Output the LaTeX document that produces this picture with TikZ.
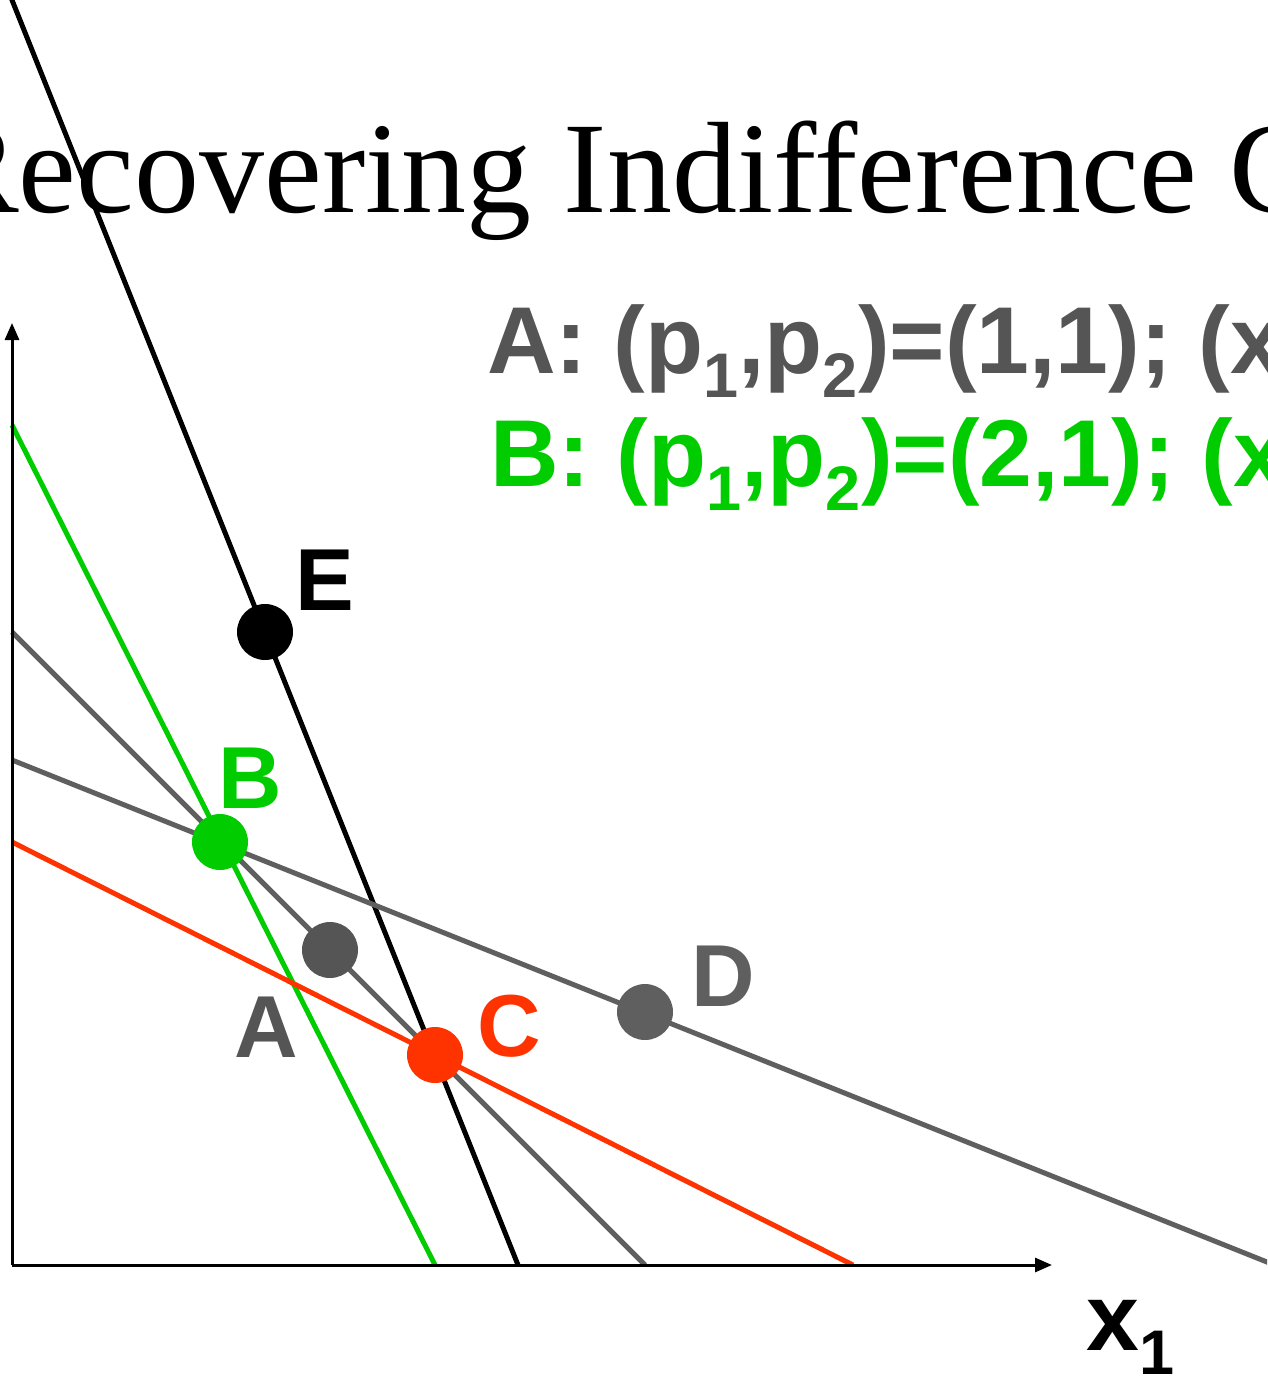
\documentclass[tikz,border=0pt]{standalone}
\usepackage{fontspec}
\setmainfont{Liberation Serif}
\setsansfont{Liberation Sans}
\usetikzlibrary{
    positioning,
    arrows.meta
}
\definecolor{linegray}{RGB}{95, 95, 95}
\definecolor{dotgray}{RGB}{85, 85, 85}
\definecolor{bundlegreen}{RGB}{0, 204, 0}
\definecolor{bundlered}{RGB}{255, 51, 0}

\newcommand{\lowidx}[1]{\raisebox{-24pt}{\fontsize{63}{63}\selectfont #1}}

\begin{document}
\begin{tikzpicture}[
    x=1pt, y=-1pt,
    % Budget lines
    budget/.style={
        draw=#1,
        line width=5pt
    },
    % Axes
    axis/.style={
        line width=3pt,
        -{Triangle[length=17pt, width=14pt]}
    },
    % Chosen bundles
    bundle/.style={
        circle,
        fill=#1,
        minimum size=56pt,
        inner sep=0pt
    },
    % Point labels
    ptlabel/.style={
        font=\fontsize{88}{88}\selectfont\sffamily\bfseries,
        text=#1,
        inner sep=0pt,
        anchor=base
    },
    % Price lines
    pricetext/.style={
        font=\fontsize{95}{100}\selectfont\sffamily\bfseries,
        text=#1,
        inner sep=0pt,
        anchor=base west
    }
]

\useasboundingbox (0,0) rectangle (1267,1378);
\clip (0,0) rectangle (1267,1378);

% Title
\node[font=\fontsize{130}{130}\selectfont, anchor=base west, inner sep=0pt]
    (title) at (-68, 212) {Recovering Indifference C};

% ============================================
% PRICES
% ============================================

\node[pricetext=dotgray] (pricesA) at (487, 373)
    {A: (p\lowidx{1},p\lowidx{2})=(1,1); (x};
\node[pricetext=bundlegreen] (pricesB) at (490, 486)
    {B: (p\lowidx{1},p\lowidx{2})=(2,1); (x};

% ============================================
% BUDGET LINES
% ============================================

\draw[budget=black] (4, -20) -- (518, 1265);
\draw[budget=bundlegreen] (12, 425) -- (435, 1265);
\draw[budget=linegray] (12, 632) -- (645, 1265);
\draw[budget=linegray] (12, 760) -- (1300, 1275.2);
\draw[budget=bundlered] (12, 842) -- (853, 1265);

% Axes
\coordinate (origin) at (12, 1265);
\coordinate (ytop) at (12, 323);
\coordinate (xend) at (1052, 1265);
\draw[axis] (origin) -- (ytop);
\draw[axis] (origin) -- (xend);

\node[pricetext=black] (xlab) at (1086, 1350) {x\lowidx{1}};

% ============================================
% BUNDLES
% ============================================

\node[bundle=black] (dotE) at (265, 632) {};
\node[bundle=bundlegreen] (dotB) at (220, 842) {};
\node[bundle=dotgray] (dotA) at (330, 950) {};
\node[bundle=bundlered] (dotC) at (435, 1055) {};
\node[bundle=linegray] (dotD) at (645, 1012) {};

\node[ptlabel=black] (labE) at (325, 610) {E};
\node[ptlabel=bundlegreen] (labB) at (250, 808) {B};
\node[ptlabel=dotgray] (labA) at (266, 1057) {A};
\node[ptlabel=bundlered] (labC) at (509, 1056) {C};
\node[ptlabel=linegray] (labD) at (723, 1006) {D};

\end{tikzpicture}
\end{document}
